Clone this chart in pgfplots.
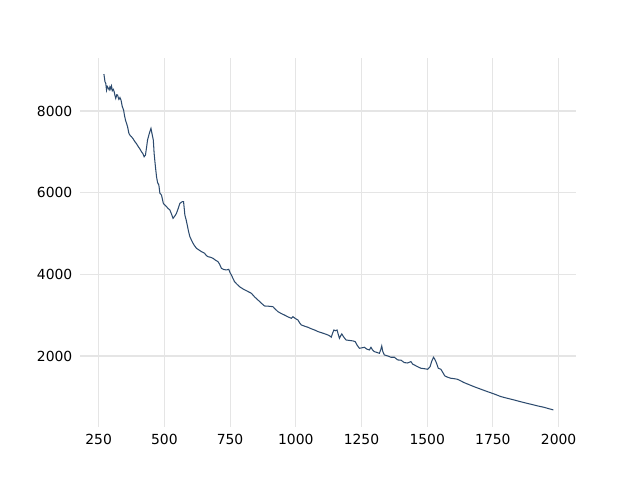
\documentclass[border=0pt]{standalone}
\usepackage{pgfplots}
\pgfplotsset{compat=1.18}
\usepackage{fontspec}
\setmainfont{DejaVu Sans}
\definecolor{linec}{RGB}{44,74,110}
\definecolor{gridc}{RGB}{229,229,229}
\begin{document}
\begin{tikzpicture}
\fill[white] (0,0) rectangle (460.8pt,345.6pt);
\path[use as bounding box] (0,0) rectangle (460.8pt,345.6pt);
\begin{axis}[
  at={(57.6pt,38.16pt)}, anchor=south west,
  scale only axis, width=357.1pt, height=265.7pt,
  xmin=179, xmax=2066, ymin=262, ymax=9300,
  axis line style={draw=none},
  tick style={draw=none},
  xtick={250,500,750,1000,1250,1500,1750,2000},
  ytick={2000,4000,6000,8000},
  grid=major,
  major grid style={gridc, line width=0.8pt},
  /pgf/number format/assume math mode=true,
  /pgf/number format/1000 sep={},
  tick label style={font=\fontsize{10}{12}\selectfont},
  x tick label style={yshift=-2pt},
  y tick label style={xshift=-2pt},
]
\addplot[linec, line width=0.75pt, mark=none] coordinates {
(270,8906) (274,8720) (277,8678) (280,8514) (283,8600) (287,8556) (290,8520) (293,8595) (296,8540) (299,8612)
(302,8497) (306,8530) (309,8473) (312,8380) (315,8311) (319,8400) (322,8392) (325,8320) (327,8286) (331,8330)
(335,8269) (340,8106) (345,8024) (348,7900) (352,7780) (356,7700) (360,7616) (365,7454) (370,7400) (375,7371)
(381,7320) (388,7249) (394,7200) (401,7126) (407,7070) (413,7004) (418,6960) (423,6881) (428,6922) (432,7100)
(436,7290) (441,7412) (445,7500) (449,7576) (454,7412) (458,7290) (461,6963) (466,6636) (470,6400) (474,6250)
(479,6188) (483,5985) (489,5944) (496,5740) (502,5700) (508,5658) (515,5610) (521,5576) (527,5480) (533,5373)
(540,5430) (546,5495) (553,5620) (559,5740) (568,5780) (573,5780) (578,5454) (583,5330) (587,5209) (592,5050)
(597,4923) (603,4840) (609,4761) (615,4700) (622,4639) (631,4600) (641,4556) (647,4540) (653,4516) (660,4460)
(666,4433) (675,4420) (685,4394) (694,4350) (704,4311) (710,4250) (717,4149) (726,4120) (736,4108) (745,4124)
(750,4040) (755,3985) (761,3900) (767,3820) (776,3760) (786,3698) (800,3640) (815,3590) (831,3537) (843,3450)
(856,3373) (868,3300) (881,3226) (897,3220) (913,3209) (922,3150) (932,3087) (945,3040) (957,3004) (970,2960)
(983,2924) (989,2964) (998,2920) (1008,2883) (1015,2810) (1021,2761) (1034,2730) (1046,2705) (1058,2670) (1071,2639)
(1084,2600) (1097,2573) (1110,2545) (1122,2516) (1130,2490) (1135,2460) (1140,2560) (1145,2639) (1151,2620) (1157,2639)
(1162,2520) (1166,2435) (1171,2500) (1175,2541) (1183,2460) (1191,2394) (1200,2385) (1210,2377) (1218,2370) (1226,2352)
(1234,2260) (1242,2190) (1251,2200) (1261,2214) (1270,2170) (1280,2149) (1286,2214) (1292,2150) (1299,2108) (1308,2090)
(1318,2067) (1323,2150) (1327,2247) (1331,2110) (1337,2027) (1350,2002) (1362,1970) (1375,1970) (1388,1904) (1400,1900)
(1413,1839) (1425,1830) (1438,1863) (1445,1800) (1451,1782) (1463,1740) (1476,1701) (1489,1690) (1502,1676) (1511,1741)
(1517,1870) (1524,1970) (1529,1920) (1533,1863) (1538,1780) (1542,1701) (1552,1676) (1560,1590) (1567,1513) (1578,1480)
(1590,1456) (1603,1445) (1615,1431) (1628,1390) (1640,1350) (1659,1300) (1678,1250) (1703,1190) (1729,1129) (1755,1070)
(1780,1007) (1805,965) (1830,925) (1862,870) (1894,820) (1919,780) (1944,745) (1962,712) (1980,680)
};
\end{axis}
\end{tikzpicture}
\end{document}
